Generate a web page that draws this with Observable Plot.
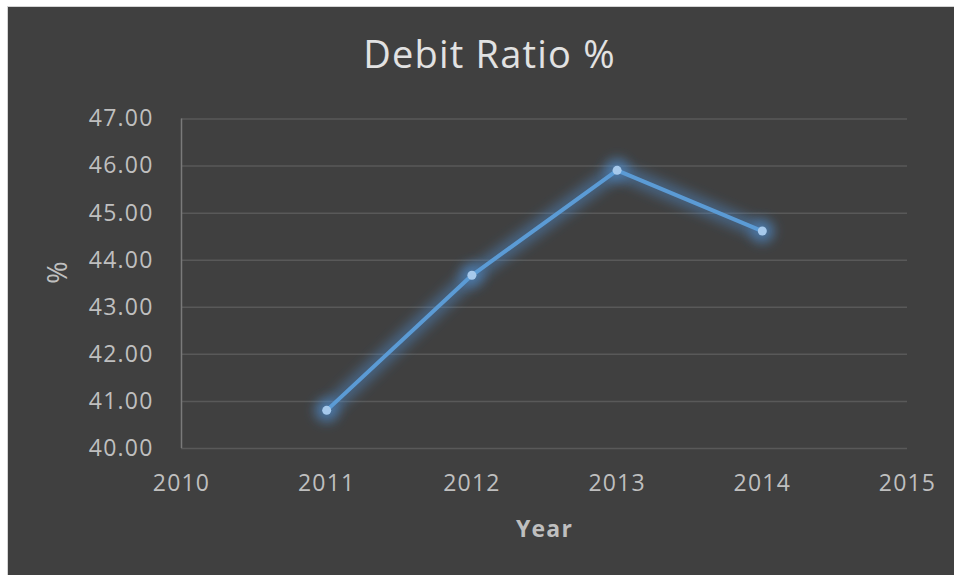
<!DOCTYPE html>
<html>
<head>
<meta charset="utf-8">
<script src="https://cdn.jsdelivr.net/npm/d3@7"></script>
<script src="https://cdn.jsdelivr.net/npm/@observablehq/plot@0.6"></script>
<style>
  html, body { margin: 0; padding: 0; background: #ffffff; }
  #panel {
    position: absolute; left: 7px; top: 6px;
    width: 946px; height: 568px;
    background: #404040;
    border-left: 1px solid #d4d4d4; border-top: 1px solid #d4d4d4;
    overflow: hidden;
  }
  #panel svg { display: block; }
</style>
</head>
<body>
<div id="panel"></div>
<script>
const title = "Debit Ratio %";
const xLabel = "Year";
const yLabel = "%";
const years = [2011, 2012, 2013, 2014];
const debitRatio = [40.81, 43.68, 45.91, 44.62];
const xTicks = [2010, 2011, 2012, 2013, 2014, 2015];
const yTicks = [40, 41, 42, 43, 44, 45, 46, 47];

const data = years.map((year, i) => ({year, value: debitRatio[i]}));
const glowColor = "#4f8fd1";

const chart = Plot.plot({
  width: 946,
  height: 568,
  marginLeft: 173,
  marginRight: 47,
  marginTop: 111.5,
  marginBottom: 127,
  style: {
    background: "transparent",
    color: "#bfbfbf",
    fontFamily: "'Open Sans', sans-serif",
    fontSize: "23px",
    letterSpacing: "1.2px",
    overflow: "visible"
  },
  x: {
    domain: [2010, 2015],
    ticks: xTicks,
    tickFormat: d => String(d),
    tickSize: 0,
    tickPadding: 26,
    label: null
  },
  y: {
    domain: [40, 47],
    ticks: yTicks,
    tickFormat: d => d.toFixed(2),
    tickSize: 0,
    tickPadding: 28,
    label: null
  },
  marks: [
    Plot.ruleY(yTicks, {stroke: "#595959", strokeWidth: 1.5}),
    Plot.ruleX([2010], {stroke: "#7a7a7a", strokeWidth: 1.5}),
    Plot.line(data, {x: "year", y: "value", stroke: glowColor, strokeWidth: 16, strokeOpacity: 0.45}),
    Plot.dot(data, {x: "year", y: "value", r: 12, fill: glowColor, fillOpacity: 0.5, stroke: "none"}),
    Plot.line(data, {x: "year", y: "value", stroke: "#5b9bd5", strokeWidth: 4}),
    Plot.dot(data, {x: "year", y: "value", r: 4.5, fill: "#a6c9ec", stroke: "none"}),
    Plot.text([title], {frameAnchor: "top", dx: -55, dy: -77.5, fontSize: 38, fontWeight: 500, fill: "#e2e2e2", letterSpacing: "0px"}),
    Plot.text([xLabel], {frameAnchor: "bottom", dy: 88, fontSize: 23, fontWeight: "bold", fill: "#bfbfbf", letterSpacing: "0.5px"}),
    Plot.text([yLabel], {frameAnchor: "left", dx: -123, rotate: -90, fontSize: 27, fill: "#bfbfbf"})
  ]
});

const svg = d3.select(chart);
const defs = svg.insert("defs", ":first-child");
const f = defs.append("filter").attr("id", "glowBlur")
  .attr("filterUnits", "userSpaceOnUse")
  .attr("x", -50).attr("y", -50).attr("width", 1100).attr("height", 700);
f.append("feGaussianBlur").attr("stdDeviation", 6);
svg.selectAll("g, path, circle").each(function() {
  const s = (this.getAttribute("stroke") || "").toLowerCase();
  const fl = (this.getAttribute("fill") || "").toLowerCase();
  if (s === glowColor || fl === glowColor) this.setAttribute("filter", "url(#glowBlur)");
});

document.getElementById("panel").appendChild(chart);
</script>
</body>
</html>
